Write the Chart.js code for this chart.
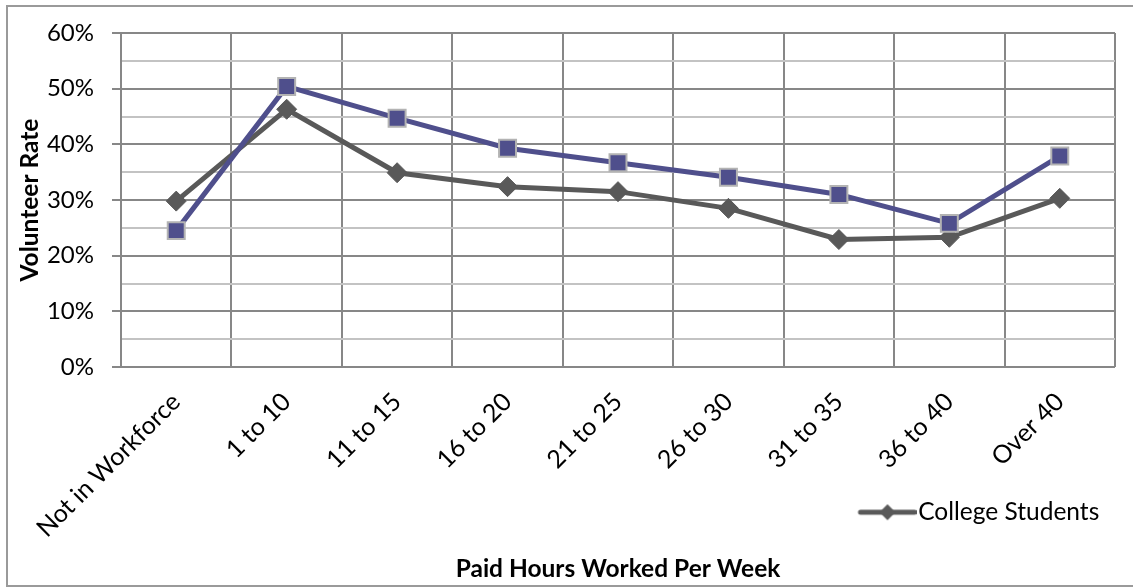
<!DOCTYPE html>
<html>
<head>
<meta charset="utf-8">
<script src="https://cdn.jsdelivr.net/npm/chart.js@4.4.1/dist/chart.umd.min.js"></script>
<style>
  html, body { margin: 0; padding: 0; background: #ffffff; }
  canvas { display: block; }
</style>
</head>
<body>
<canvas id="c" width="1133" height="588"></canvas>
<script>
// ---- data ----
const categories = ["Not in Workforce", "1 to 10", "11 to 15", "16 to 20", "21 to 25", "26 to 30", "31 to 35", "36 to 40", "Over 40"];
const collegeStudents = [29.8, 46.3, 34.9, 32.4, 31.5, 28.5, 22.9, 23.3, 30.3];
const otherSeries = [24.5, 50.4, 44.7, 39.3, 36.7, 34.1, 31.0, 25.8, 37.9];
const seriesNames = ["College Students", ""];
const yTicksMajor = [0, 10, 20, 30, 40, 50, 60];
const xTitle = "Paid Hours Worked Per Week";
const yTitle = "Volunteer Rate";

const FONT = "Lato, 'Open Sans', sans-serif";
const MAJOR = '#878787';
const MINOR = '#c3c3c3';

// legend symbol (line with diamond), drawn as a point-style image
const legendSym = document.createElement('canvas');
legendSym.width = 68; legendSym.height = 20;
(function(){
  const g = legendSym.getContext('2d');
  g.strokeStyle = '#595959'; g.lineWidth = 5; g.lineCap = 'round';
  g.beginPath(); g.moveTo(12, 10); g.lineTo(66, 10); g.stroke();
  g.fillStyle = '#595959';
  g.beginPath(); g.moveTo(39, 2); g.lineTo(47, 10); g.lineTo(39, 18); g.lineTo(31, 10); g.closePath(); g.fill();
})();

const outerBorder = {
  id: 'outerBorder',
  beforeDraw(chart) {
    const ctx = chart.ctx;
    ctx.save();
    ctx.fillStyle = '#ffffff';
    ctx.fillRect(0, 0, chart.width, chart.height);
    ctx.strokeStyle = '#9a9a9a';
    ctx.lineWidth = 2;
    ctx.strokeRect(7, 6, chart.width + 20, 580);
    ctx.restore();
  }
};

// place the legend in the gap right of the rotated category labels
const legendPlacer = {
  id: 'legendPlacer',
  afterLayout(chart) {
    const lg = chart.legend;
    if (!lg) return;
    lg.left = 849; lg.right = 1133;
    lg.top = 490; lg.bottom = 548;
    lg.width = lg.right - lg.left; lg.height = lg.bottom - lg.top;
  }
};

new Chart(document.getElementById('c'), {
  type: 'line',
  data: {
    labels: categories,
    datasets: [
      {
        label: seriesNames[1],
        data: otherSeries,
        borderColor: '#4f4f8c',
        backgroundColor: '#4f4f8c',
        borderWidth: 5,
        pointStyle: 'rect',
        pointRadius: 12,
        pointHoverRadius: 12,
        pointBackgroundColor: '#4f4f8c',
        pointBorderColor: '#b3b3b3',
        pointBorderWidth: 2,
        tension: 0
      },
      {
        label: seriesNames[0],
        data: collegeStudents,
        borderColor: '#595959',
        backgroundColor: '#595959',
        borderWidth: 5,
        pointStyle: 'rectRot',
        pointRadius: 10,
        pointHoverRadius: 10,
        pointBackgroundColor: '#595959',
        pointBorderColor: '#595959',
        pointBorderWidth: 1,
        tension: 0
      }
    ]
  },
  options: {
    responsive: false,
    animation: false,
    layout: { padding: { left: 8, right: 18, top: 33, bottom: 2 } },
    plugins: {
      tooltip: { enabled: false },
      title: { display: false },
      legend: {
        position: 'chartArea',
        align: 'start',
        labels: {
          filter: (item) => item.text !== '',
          usePointStyle: true,
          pointStyle: legendSym,
          pointStyleWidth: 47,
          color: '#000',
          font: { family: FONT, size: 24.5 },
          padding: 10
        }
      }
    },
    scales: {
      x: {
        offset: true,
        afterFit: (s) => { s.height = 219; },
        grid: { offset: true, color: MAJOR, lineWidth: 2, drawTicks: false },
        border: { display: false },
        ticks: {
          autoSkip: false,
          maxRotation: 45,
          minRotation: 45,
          color: '#000',
          padding: 20,
          font: { family: FONT, size: 25 }
        },
        title: {
          display: true,
          text: xTitle,
          color: '#000',
          font: { family: FONT, size: 24.5, weight: 'bold' },
          padding: { top: 4, bottom: 2 }
        }
      },
      y: {
        min: 0,
        max: 60,
        afterFit: (s) => { s.width = 113; },
        border: { display: true, color: MAJOR, width: 2 },
        grid: {
          lineWidth: 2,
          tickLength: 9,
          color: (c) => (c.tick && c.tick.value % 10 === 0) ? MAJOR : MINOR,
          tickColor: (c) => (c.tick && c.tick.value % 10 === 0) ? MAJOR : 'rgba(0,0,0,0)'
        },
        ticks: {
          stepSize: 5,
          autoSkip: false,
          padding: 18,
          color: '#000',
          font: { family: FONT, size: 24 },
          callback: (v) => yTicksMajor.includes(v) ? v + '%' : ''
        },
        title: {
          display: true,
          text: yTitle,
          color: '#000',
          font: { family: FONT, size: 24.5, weight: 'bold' },
          padding: { top: 7, bottom: 0 }
        }
      }
    }
  },
  plugins: [outerBorder, legendPlacer]
});
</script>
</body>
</html>
